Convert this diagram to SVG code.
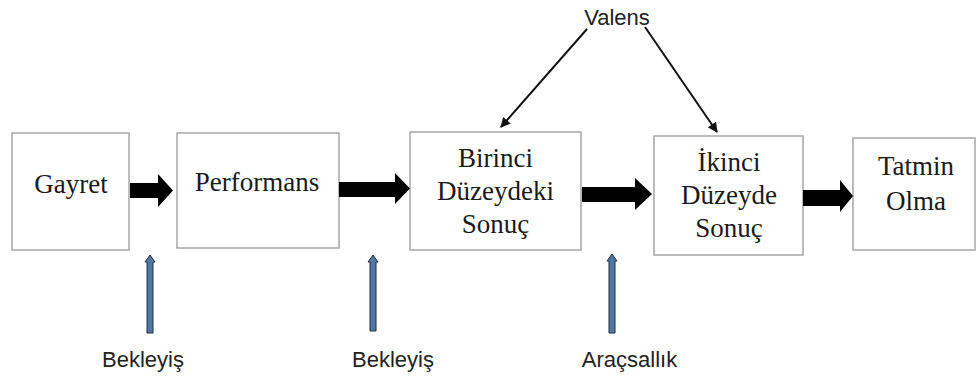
<svg xmlns="http://www.w3.org/2000/svg" width="976" height="379" viewBox="0 0 976 379">
<style>
.box{fill:#fff;stroke:#a6a6a6;stroke-width:1.5}
.t{font-family:"Liberation Serif","Times New Roman",serif;font-size:27px;fill:#1a1a1a;text-anchor:middle}
.s{font-family:"Liberation Sans",Arial,sans-serif;font-size:22px;fill:#222;text-anchor:middle}
.blk{fill:#000}
.vl{stroke:#111;stroke-width:2;fill:none}
.up{fill:#4f79a3;stroke:#1f2f40;stroke-width:1}
</style>
<defs>
<marker id="ah" viewBox="0 0 10 10" refX="9" refY="5" markerWidth="11" markerHeight="10" markerUnits="userSpaceOnUse" orient="auto">
<path d="M0,0 L10,5 L0,10 Z" fill="#111"/>
</marker>
</defs>
<rect width="976" height="379" fill="#fff"/>
<g id="gayret"><rect class="box" x="12" y="133" width="117" height="117"/><text class="t" x="71" y="193">Gayret</text></g>
<g id="performans"><rect class="box" x="177" y="133" width="162" height="115"/><text class="t" x="257" y="191">Performans</text></g>
<g id="birinci"><rect class="box" x="410" y="132" width="171" height="118"/><text class="t" x="495.5" y="167">Birinci</text><text class="t" x="495.5" y="200">Düzeydeki</text><text class="t" x="495.5" y="233">Sonuç</text></g>
<g id="ikinci"><rect class="box" x="654" y="136" width="149" height="119"/><text class="t" x="729" y="171">İkinci</text><text class="t" x="729" y="204">Düzeyde</text><text class="t" x="729" y="237">Sonuç</text></g>
<g id="tatmin"><rect class="box" x="853" y="138" width="122" height="112"/><text class="t" x="916" y="175">Tatmin</text><text class="t" x="916" y="210">Olma</text></g>
<g id="valens"><text class="s" x="617" y="25">Valens</text></g>
<g id="bekleyis1"><text class="s" x="143" y="367">Bekleyiş</text></g>
<g id="bekleyis2"><text class="s" x="393" y="367">Bekleyiş</text></g>
<g id="aracsallik"><text class="s" x="629.5" y="367">Araçsallık</text></g>
<g id="connectors">
<polygon class="blk" points="130,183 158,183 158,174 173,190.5 158,207 158,198 130,198"/>
<polygon class="blk" points="339,182 395,182 395,173 410,188.5 395,204 395,197 339,197"/>
<polygon class="blk" points="582,187 635,187 635,178 652,194 635,210 635,202 582,202"/>
<polygon class="blk" points="803,190 840,190 840,180 853,196 840,212 840,206 803,206"/>
<line class="vl" x1="587" y1="29" x2="501" y2="127" marker-end="url(#ah)"/>
<line class="vl" x1="645" y1="27" x2="717" y2="132" marker-end="url(#ah)"/>
<path class="up" d="M147,333 L147,262 L145,262 L150,255 L155,262 L153,262 L153,333 Z"/>
<path class="up" d="M370,331 L370,262 L368,262 L373,255 L378,262 L376,262 L376,331 Z"/>
<path class="up" d="M609,333 L609,261 L607,261 L612,254 L617,261 L615,261 L615,333 Z"/>
</g>
</svg>
